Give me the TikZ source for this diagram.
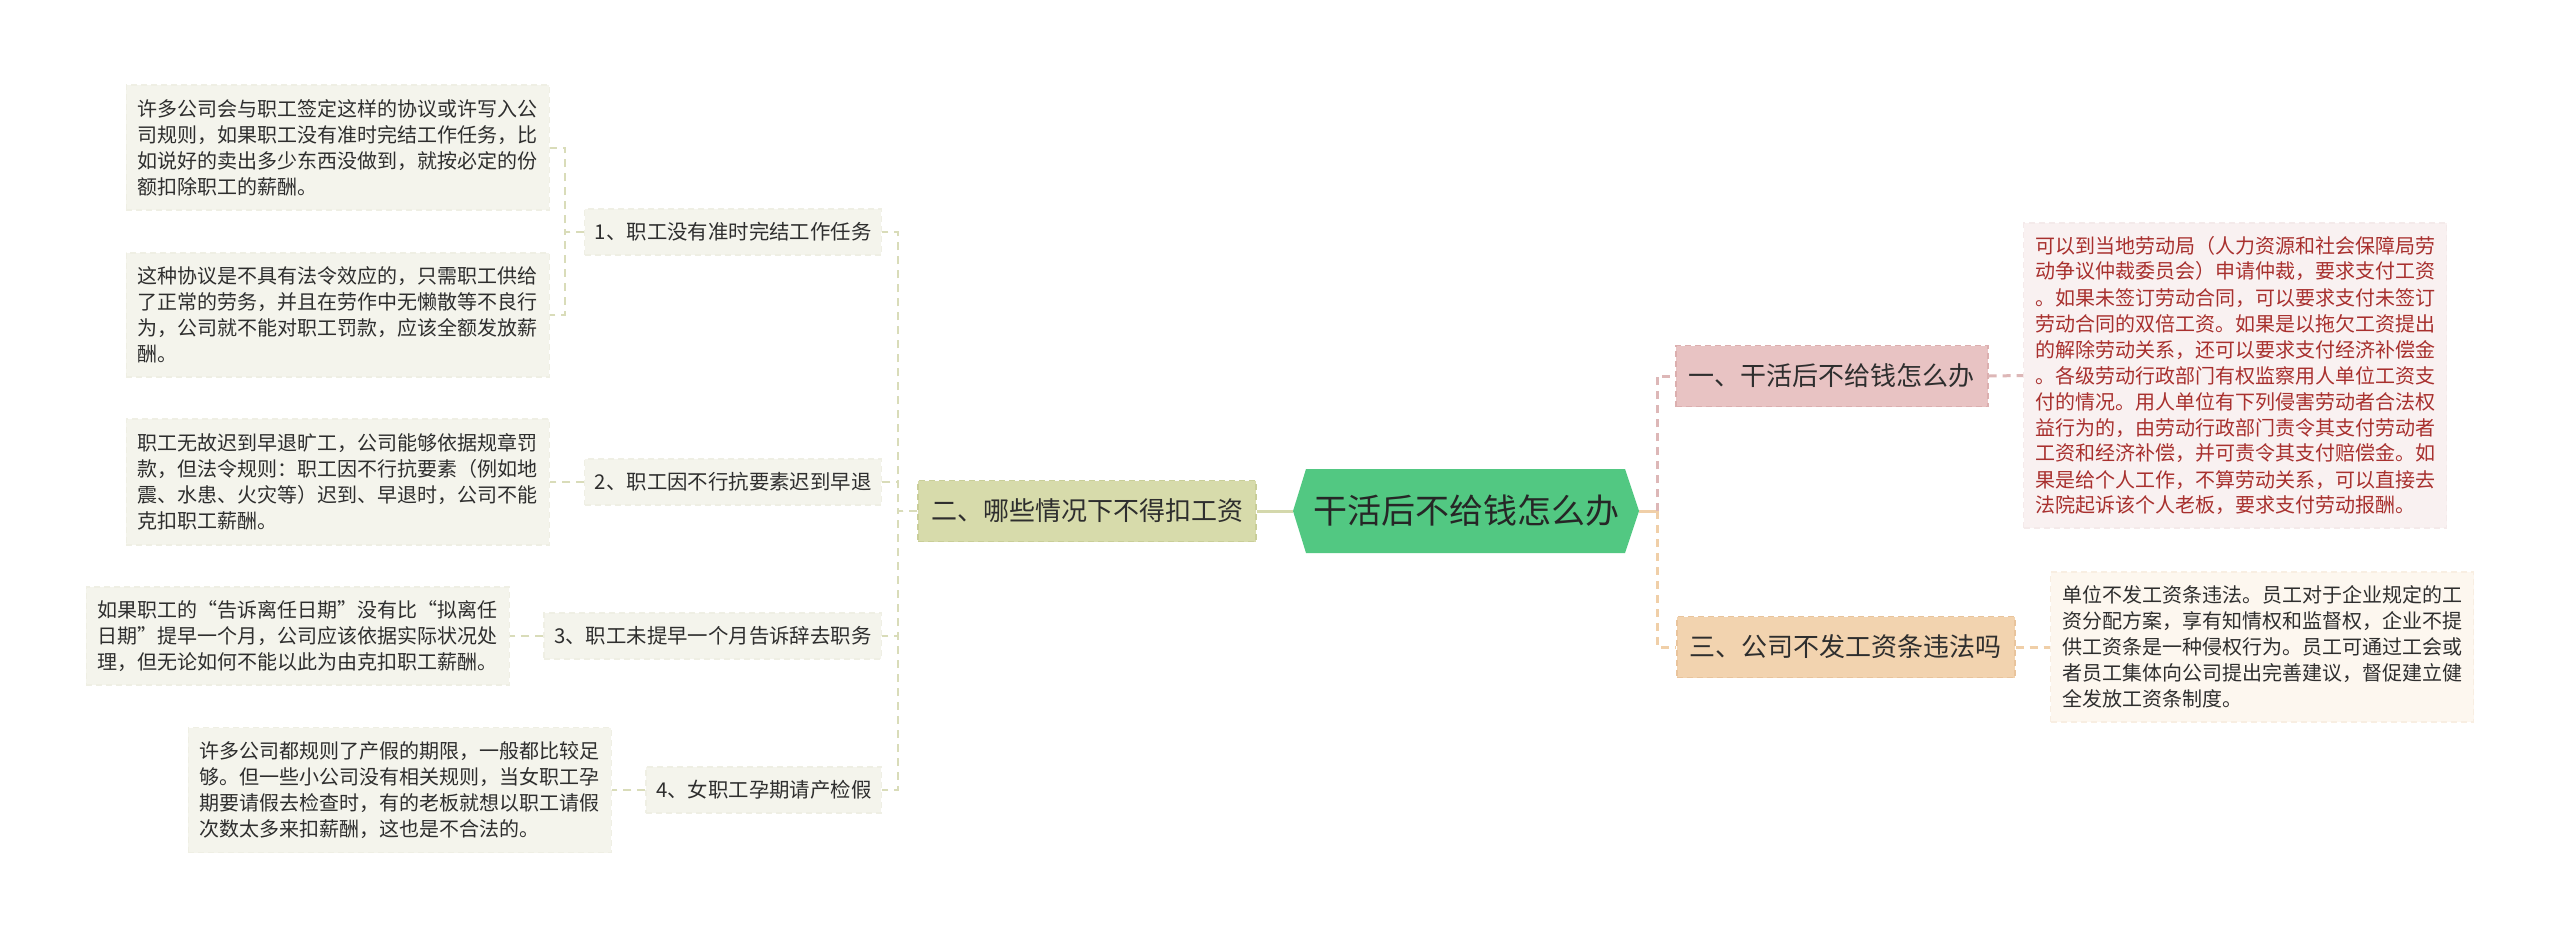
\documentclass[tikz,border=0pt]{standalone}
\usepackage{fontspec}
\setmainfont{Noto Sans CJK SC}
\definecolor{textdark}{HTML}{2E2E2E}
\definecolor{lfill}{HTML}{F4F4EC}
\definecolor{lborder}{HTML}{EFEFE4}
\definecolor{lconn}{HTML}{D9DCB9}
\definecolor{erfill}{HTML}{D7DBAB}
\definecolor{erborder}{HTML}{C9CE98}
\definecolor{rootfill}{HTML}{52C882}
\definecolor{rootline}{HTML}{D4D8AC}
\definecolor{onefill}{HTML}{E8C3C3}
\definecolor{oneborder}{HTML}{DCAFAF}
\definecolor{pinkconn}{HTML}{DDB7B7}
\definecolor{threefill}{HTML}{F2D3AF}
\definecolor{threeborder}{HTML}{E9C49C}
\definecolor{orangeconn}{HTML}{F0CFA8}
\definecolor{rfill}{HTML}{F9F1F1}
\definecolor{rborder}{HTML}{F4EAEA}
\definecolor{redtext}{HTML}{A8302E}
\definecolor{ofill}{HTML}{FDF7EF}
\definecolor{oborder}{HTML}{F8EEE2}
\begin{document}
\begin{tikzpicture}[x=0.5pt,y=-0.5pt,
  every node/.style={inner sep=0pt},
  txtbox/.style={font=\fontsize{10pt}{13pt}\selectfont, text width=200pt, align=left,
    inner xsep=5.75pt, text=textdark, line width=0.6pt, dash pattern=on 3pt off 2pt},
  lbox/.style={txtbox, fill=lfill, draw=lborder},
  ltwo/.style={font=\fontsize{10.2pt}{12pt}\selectfont, fill=lfill, draw=lborder,
    line width=0.6pt, dash pattern=on 3pt off 2pt, minimum height=23pt, inner xsep=5pt, text=textdark},
  lone/.style={font=\fontsize{13pt}{15pt}\selectfont, minimum height=30.5pt, inner xsep=6.5pt,
    text=textdark, line width=0.8pt, dash pattern=on 3pt off 2pt},
  lconnector/.style={draw=lconn, line width=1pt, dash pattern=on 4pt off 3pt},
  pinkconnector/.style={draw=pinkconn, line width=1.5pt, dash pattern=on 4pt off 3pt},
  orangeconnector/.style={draw=orangeconn, line width=1.5pt, dash pattern=on 4pt off 3pt}
]
\useasboundingbox[fill=white] (0,0) rectangle (2560,939);

% root hexagon
\fill[rootfill] (1293,511) -- (1306,469) -- (1625,469) -- (1639,511) -- (1625,553) -- (1306,553) -- cycle;
\node[minimum width=173pt, minimum height=42pt, text=black!85, font=\fontsize{17pt}{20pt}\selectfont] (root) at (1466,511) {干活后不给钱怎么办};

% level one
\node[lone, fill=erfill, draw=erborder, anchor=east] (er) at (1257,511) {二、哪些情况下不得扣工资};
\node[lone, fill=onefill, draw=oneborder, anchor=west] (one) at (1675,376) {一、干活后不给钱怎么办};
\node[lone, fill=threefill, draw=threeborder, anchor=west] (three) at (1676,647) {三、公司不发工资条违法吗};

% left level two
\node[ltwo, anchor=east] (n1) at (882,232) {1、职工没有准时完结工作任务};
\node[ltwo, anchor=east] (n2) at (882,482) {2、职工因不行抗要素迟到早退};
\node[ltwo, anchor=east] (n3) at (882,636) {3、职工未提早一个月告诉辞去职务};
\node[ltwo, anchor=east] (n4) at (882,790) {4、女职工孕期请产检假};

% left leaves
\node[lbox, anchor=east, minimum height=62.5pt] (c1a) at (550,147.5) {许多公司会与职工签定这样的协议或许写入公\\司规则，如果职工没有准时完结工作任务，比\\如说好的卖出多少东西没做到，就按必定的份\\额扣除职工的薪酬。};
\node[lbox, anchor=east, minimum height=62pt] (c1b) at (550,315) {这种协议是不具有法令效应的，只需职工供给\\了正常的劳务，并且在劳作中无懒散等不良行\\为，公司就不能对职工罚款，应该全额发放薪\\酬。};
\node[lbox, anchor=east, minimum height=63pt] (c2) at (550,482) {职工无故迟到早退旷工，公司能够依据规章罚\\款，但法令规则：职工因不行抗要素（例如地\\震、水患、火灾等）迟到、早退时，公司不能\\克扣职工薪酬。};
\node[lbox, anchor=east, minimum height=49pt] (c3) at (510,636) {如果职工的“告诉离任日期”没有比“拟离任\\日期”提早一个月，公司应该依据实际状况处\\理，但无论如何不能以此为由克扣职工薪酬。};
\node[lbox, anchor=east, minimum height=62.5pt] (c4) at (612,790) {许多公司都规则了产假的期限，一般都比较足\\够。但一些小公司没有相关规则，当女职工孕\\期要请假去检查时，有的老板就想以职工请假\\次数太多来扣薪酬，这也是不合法的。};

% right leaves
\node[txtbox, fill=rfill, draw=rborder, text=redtext, anchor=west, minimum height=152.5pt] (r1) at (2023,375.5) {可以到当地劳动局（人力资源和社会保障局劳\\动争议仲裁委员会）申请仲裁，要求支付工资\\。如果未签订劳动合同，可以要求支付未签订\\劳动合同的双倍工资。如果是以拖欠工资提出\\的解除劳动关系，还可以要求支付经济补偿金\\。各级劳动行政部门有权监察用人单位工资支\\付的情况。用人单位有下列侵害劳动者合法权\\益行为的，由劳动行政部门责令其支付劳动者\\工资和经济补偿，并可责令其支付赔偿金。如\\果是给个人工作，不算劳动关系，可以直接去\\法院起诉该个人老板，要求支付劳动报酬。};
\node[txtbox, fill=ofill, draw=oborder, anchor=west, minimum height=75pt] (r3) at (2050,647) {单位不发工资条违法。员工对于企业规定的工\\资分配方案，享有知情权和监督权，企业不提\\供工资条是一种侵权行为。员工可通过工会或\\者员工集体向公司提出完善建议，督促建立健\\全发放工资条制度。};

% connectors left
\draw[draw=rootline, line width=1.5pt] (root.west) -- (er.east);
\draw[lconnector] (er.west) -- ++(-19,0) |- (n1.east);
\draw[lconnector] (er.west) -- ++(-19,0) |- (n2.east);
\draw[lconnector] (er.west) -- ++(-19,0) |- (n3.east);
\draw[lconnector] (er.west) -- ++(-19,0) |- (n4.east);
\draw[lconnector] (n1.west) -- ++(-19,0) |- (c1a.east);
\draw[lconnector] (n1.west) -- ++(-19,0) |- (c1b.east);
\draw[lconnector] (n2.west) -- (c2.east);
\draw[lconnector] (n3.west) -- (c3.east);
\draw[lconnector] (n4.west) -- (c4.east);

% connectors right
\coordinate (rs) at (1657,511);
\draw[draw=orangeconn, line width=1.5pt] (root.east) -- (rs);
\draw[pinkconnector] (rs) |- (one.west);
\draw[orangeconnector] (rs) |- (three.west);
\draw[pinkconnector] (one.east) -- (r1.west);
\draw[orangeconnector] (three.east) -- (r3.west);
\end{tikzpicture}
\end{document}
